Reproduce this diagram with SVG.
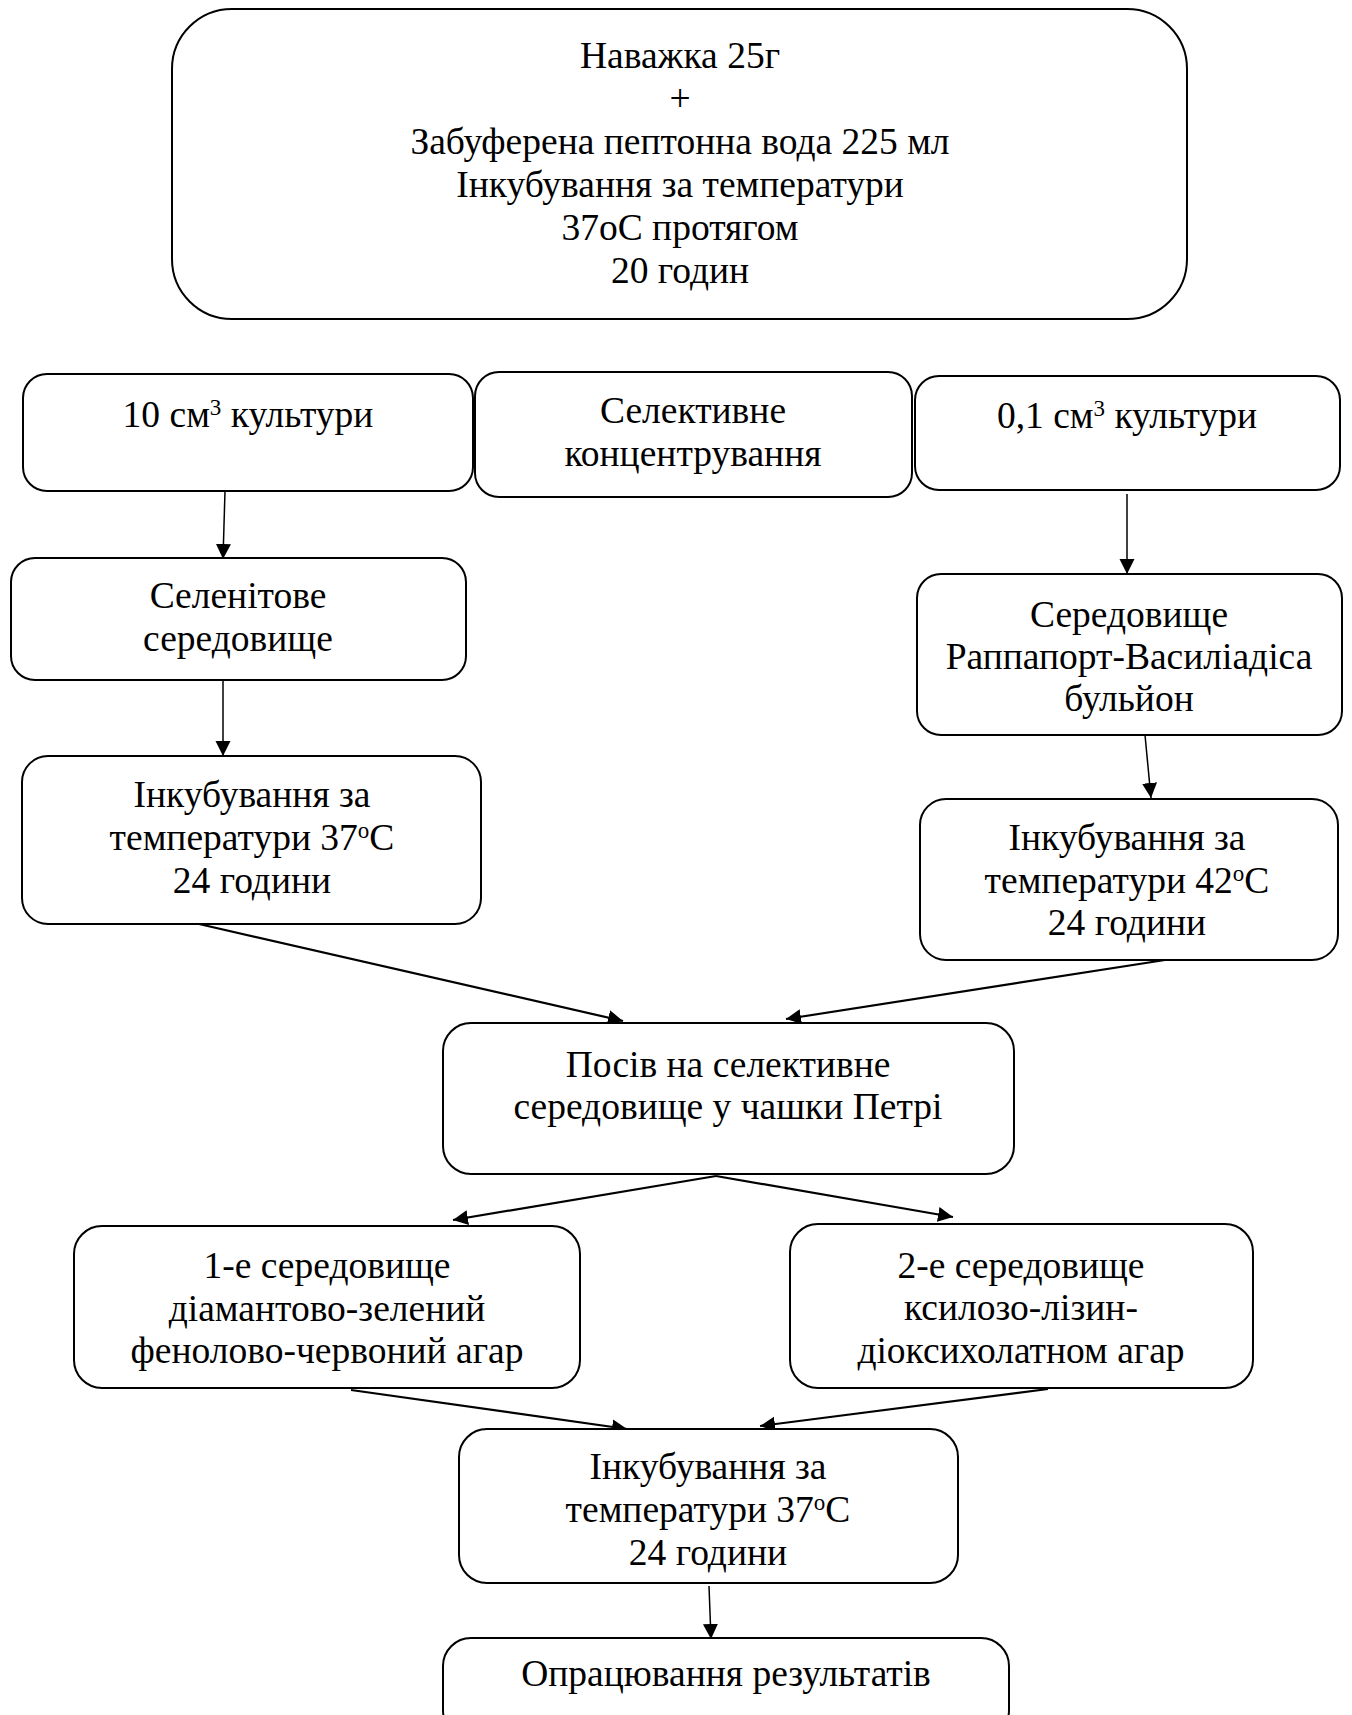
<svg xmlns="http://www.w3.org/2000/svg" width="1352" height="1715" viewBox="0 0 1352 1715">
<defs>
<marker id="ah" markerUnits="userSpaceOnUse" markerWidth="16" markerHeight="16" viewBox="0 0 16 16" refX="15" refY="8" orient="auto">
<path d="M0,0.5 L15,8 L0,15.5 Z" fill="#000"/>
</marker>
<style>
.box{fill:#fff;stroke:#000;stroke-width:2}
.t{font-family:"Liberation Serif","Times New Roman",serif;font-size:37.5px;fill:#000;text-anchor:middle}
.sup{font-size:23px}
.c{stroke:#000;fill:none;marker-end:url(#ah)}
.thin{stroke-width:1.5}
.thick{stroke-width:2.2}
</style>
</defs>
<rect width="1352" height="1715" fill="#fff"/>

<g id="connectors">
<line class="c thin" x1="225" y1="491" x2="223" y2="559"/>
<line class="c thin" x1="223" y1="681" x2="223" y2="756"/>
<line class="c thin" x1="1127" y1="494" x2="1127" y2="574"/>
<line class="c thin" x1="1145" y1="735" x2="1151" y2="798"/>
<line class="c thick" x1="199" y1="924" x2="623" y2="1021"/>
<line class="c thick" x1="1165" y1="960" x2="786" y2="1019"/>
<line class="c thick" x1="716" y1="1176" x2="453" y2="1220"/>
<line class="c thick" x1="716" y1="1176" x2="953" y2="1217"/>
<line class="c thick" x1="351" y1="1390" x2="627" y2="1429"/>
<line class="c thick" x1="1048" y1="1389" x2="760" y2="1426"/>
<line class="c thin" x1="709" y1="1586" x2="711" y2="1639"/>
</g>

<g id="n_top">
<rect class="box" x="172" y="9" width="1015" height="310" rx="60" ry="60"/>
<text class="t" x="680" y="68">Наважка 25г</text>
<text class="t" x="680" y="111">+</text>
<text class="t" x="680" y="154">Забуферена пептонна вода 225 мл</text>
<text class="t" x="680" y="197">Інкубування за температури</text>
<text class="t" x="680" y="240">37оС протягом</text>
<text class="t" x="680" y="283">20 годин</text>
</g>

<g id="n_10cm">
<rect class="box" x="23" y="374" width="450" height="117" rx="24" ry="24"/>
<text class="t" x="248" y="427">10 см<tspan class="sup" baseline-shift="super">3</tspan> культури</text>
</g>

<g id="n_selconc">
<rect class="box" x="475" y="372" width="437" height="125" rx="24" ry="24"/>
<text class="t" x="693" y="423">Селективне</text>
<text class="t" x="693" y="466">концентрування</text>
</g>

<g id="n_01cm">
<rect class="box" x="915" y="376" width="425" height="114" rx="24" ry="24"/>
<text class="t" x="1127" y="428">0,1 см<tspan class="sup" baseline-shift="super">3</tspan> культури</text>
</g>

<g id="n_selenite">
<rect class="box" x="11" y="558" width="455" height="122" rx="24" ry="24"/>
<text class="t" x="238" y="608">Селенітове</text>
<text class="t" x="238" y="651">середовище</text>
</g>

<g id="n_rappaport">
<rect class="box" x="917" y="574" width="425" height="161" rx="24" ry="24"/>
<text class="t" x="1129" y="627">Середовище</text>
<text class="t" x="1129" y="669">Раппапорт-Василіадіса</text>
<text class="t" x="1129" y="711">бульйон</text>
</g>

<g id="n_inc37a">
<rect class="box" x="22" y="756" width="459" height="168" rx="26" ry="26"/>
<text class="t" x="252" y="807">Інкубування за</text>
<text class="t" x="252" y="850">температури 37<tspan class="sup" baseline-shift="super">о</tspan>С</text>
<text class="t" x="252" y="893">24 години</text>
</g>

<g id="n_inc42">
<rect class="box" x="920" y="799" width="418" height="161" rx="26" ry="26"/>
<text class="t" x="1127" y="850">Інкубування за</text>
<text class="t" x="1127" y="893">температури 42<tspan class="sup" baseline-shift="super">о</tspan>С</text>
<text class="t" x="1127" y="935">24 години</text>
</g>

<g id="n_posiv">
<rect class="box" x="443" y="1023" width="571" height="151" rx="28" ry="28"/>
<text class="t" x="728" y="1077">Посів на селективне</text>
<text class="t" x="728" y="1119">середовище у чашки Петрі</text>
</g>

<g id="n_med1">
<rect class="box" x="74" y="1226" width="506" height="162" rx="28" ry="28"/>
<text class="t" x="327" y="1278">1-е середовище</text>
<text class="t" x="327" y="1321">діамантово-зелений</text>
<text class="t" x="327" y="1363">фенолово-червоний агар</text>
</g>

<g id="n_med2">
<rect class="box" x="790" y="1224" width="463" height="164" rx="28" ry="28"/>
<text class="t" x="1021" y="1278">2-е середовище</text>
<text class="t" x="1021" y="1320">ксилозо-лізин-</text>
<text class="t" x="1021" y="1363">діоксихолатном агар</text>
</g>

<g id="n_inc37b">
<rect class="box" x="459" y="1429" width="499" height="154" rx="28" ry="28"/>
<text class="t" x="708" y="1479">Інкубування за</text>
<text class="t" x="708" y="1522">температури 37<tspan class="sup" baseline-shift="super">о</tspan>С</text>
<text class="t" x="708" y="1565">24 години</text>
</g>

<g id="n_result">
<rect class="box" x="443" y="1638" width="566" height="100" rx="28" ry="28"/>
<text class="t" x="726" y="1686">Опрацювання результатів</text>
</g>
</svg>
